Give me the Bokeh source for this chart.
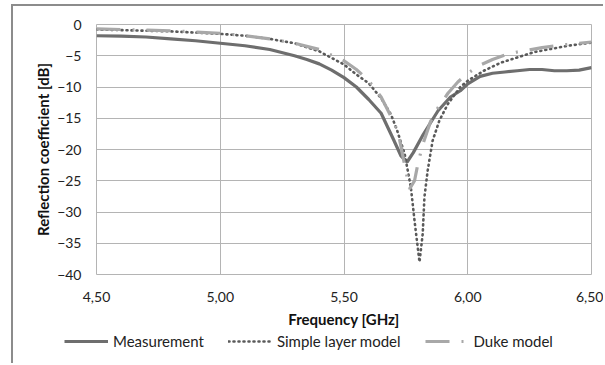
from bokeh.plotting import figure
from bokeh.layouts import column
from bokeh.models import FixedTicker, Legend, LegendItem, Range1d
from bokeh.embed import file_html
from bokeh.resources import INLINE

# Frequency [GHz] and reflection coefficient [dB]
meas_f = [4.50, 4.60, 4.70, 4.80, 4.90, 5.00, 5.10, 5.20, 5.30, 5.35, 5.40, 5.45, 5.50, 5.55, 5.60,
          5.65, 5.70, 5.73, 5.755, 5.78, 5.82, 5.88, 5.93, 5.97, 6.00, 6.05, 6.10, 6.15, 6.20,
          6.25, 6.30, 6.35, 6.40, 6.45, 6.50]
meas_db = [-1.8, -1.85, -2.0, -2.3, -2.6, -3.0, -3.4, -4.0, -5.0, -5.6, -6.3, -7.3, -8.5, -10.0, -12.0,
           -14.2, -18.4, -21.0, -22.0, -20.5, -17.6, -13.8, -11.6, -10.6, -9.5, -8.3, -7.8, -7.6, -7.4,
           -7.2, -7.2, -7.4, -7.4, -7.3, -6.9]

simple_f = [4.50, 4.60, 4.70, 4.80, 4.90, 5.00, 5.10, 5.20, 5.30, 5.40, 5.50, 5.55, 5.60, 5.65,
            5.69, 5.715, 5.745, 5.77, 5.785, 5.805, 5.818, 5.825, 5.838, 5.858, 5.885, 5.92, 5.97,
            6.00, 6.065, 6.134, 6.27, 6.405, 6.50]
simple_db = [-0.8, -0.9, -1.0, -1.1, -1.3, -1.5, -1.8, -2.3, -3.0, -4.3, -6.4, -8.0, -9.4, -11.8,
             -14.4, -17.0, -20.7, -26.0, -31.4, -38.0, -33.5, -27.6, -23.4, -18.6, -15.4, -12.7, -10.0,
             -9.0, -7.4, -6.1, -4.4, -3.4, -2.9]

duke_f = [4.50, 4.60, 4.70, 4.80, 4.90, 5.00, 5.10, 5.20, 5.30, 5.40, 5.50, 5.55, 5.60, 5.65,
          5.70, 5.72, 5.74, 5.765, 5.785, 5.80, 5.82, 5.85, 5.88, 5.92, 5.96, 6.00, 6.05, 6.10,
          6.15, 6.20, 6.30, 6.40, 6.50]
duke_db = [-0.7, -0.8, -0.9, -1.0, -1.2, -1.4, -1.8, -2.3, -3.0, -4.0, -5.8, -7.2, -9.0, -11.6,
           -15.5, -17.5, -21.5, -26.3, -25.0, -22.0, -19.0, -15.5, -13.3, -11.0, -9.2, -7.8, -6.5, -5.6,
           -4.9, -4.4, -3.7, -3.2, -2.8]

series_names = ["Measurement", "Simple layer model", "Duke model"]

x_ticks = [4.5, 5.0, 5.5, 6.0, 6.5]
x_tick_labels = ["4,50", "5,00", "5,50", "6,00", "6,50"]
y_ticks = [0, -5, -10, -15, -20, -25, -30, -35, -40]

FONT = "Lato"
GRID = "#b4b4b4"
W = 603
SHIFT = 32
DOWN = 6

STYLES = [dict(line_color="#6e6e6e", line_width=3.2),
          dict(line_color="#5a5a5a", line_width=2.6, line_dash="1 4", line_cap="round"),
          dict(line_color="#a8a8a8", line_width=3.2, line_dash="24 12 2 12")]
SERIES = [(meas_f, meas_db), (simple_f, simple_db), (duke_f, duke_db)]

p = figure(width=W, height=326, output_backend="svg", toolbar_location=None,
           x_range=Range1d(4.5, 6.5), y_range=Range1d(-40, 0),
           min_border_left=96, min_border_right=W - 591, min_border_top=24 - DOWN,
           min_border_bottom=52 + DOWN)
# shift the chart down a little and draw the chart-area top border line above it
p.styles = {"transform": "translateY(%dpx)" % DOWN,
            "box-shadow": "6px -8px 0 -6px #8c8c8c"}

p.outline_line_color = GRID
p.outline_line_width = 1
p.background_fill_color = "white"
p.border_fill_alpha = 0

for ax in (p.xaxis[0], p.yaxis[0]):
    ax.axis_line_color = None
    ax.major_tick_line_color = None
    ax.minor_tick_line_color = None
    ax.major_tick_out = 0
    ax.major_tick_in = 0
    ax.minor_tick_out = 0
    ax.major_label_text_font = FONT
    ax.major_label_text_font_size = "14px"
    ax.major_label_text_color = "#222222"
    ax.axis_label_text_font = FONT
    ax.axis_label_text_font_style = "bold"
    ax.axis_label_text_font_size = "15px"
    ax.axis_label_text_color = "#111111"

p.xaxis.ticker = FixedTicker(ticks=x_ticks)
p.xaxis.major_label_overrides = {t: l for t, l in zip(x_ticks, x_tick_labels)}
p.yaxis.ticker = FixedTicker(ticks=y_ticks)
p.xaxis.axis_label = "Frequency [GHz]"
p.yaxis.axis_label = "Reflection coefficient [dB]"
p.xaxis.major_label_standoff = 17
p.xaxis.axis_label_standoff = 5
p.yaxis.major_label_standoff = 15
p.yaxis.axis_label_standoff = 2

p.xgrid.grid_line_color = GRID
p.ygrid.grid_line_color = GRID

for (fx, fy), st in zip(SERIES, STYLES):
    p.line(fx, fy, **st)

# legend strip below the chart (its lines lie outside its own visible range)
lg = figure(width=W, height=37, output_backend="svg", toolbar_location=None,
            x_range=Range1d(4.5, 6.5), y_range=Range1d(100, 101),
            x_axis_location=None, y_axis_location=None,
            min_border_left=96, min_border_right=W - 591, min_border_top=0, min_border_bottom=0)
lg.grid.visible = False
lg.outline_line_color = None
lg.background_fill_alpha = 0
lg.border_fill_alpha = 0
lg.styles = {"transform": "translateX(-%dpx)" % SHIFT}
items = []
for name, (fx, fy), st in zip(series_names, SERIES, STYLES):
    r = lg.line(fx, fy, **st)
    items.append(LegendItem(label=name, renderers=[r]))
legend = Legend(items=items, orientation="horizontal", location=(64 - 96 + SHIFT, 12),
                label_text_font=FONT, label_text_font_size="15px", label_text_color="#222222",
                glyph_width=44, spacing=24, label_standoff=5,
                border_line_color=None, background_fill_alpha=0, margin=0, padding=0)
lg.add_layout(legend, "center")

layout = column(p, lg, spacing=0)
layout.styles = {"box-shadow": "inset 11px 4px 0 0 white, inset 13px 6px 0 0 #8c8c8c"}

open("out.html", "w").write(file_html(layout, INLINE))
